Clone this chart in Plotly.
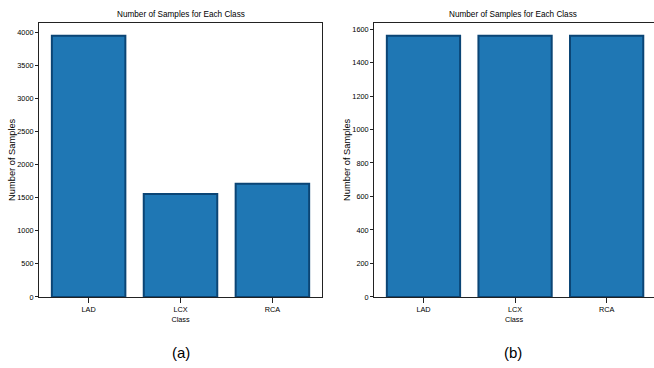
import plotly.graph_objects as go
from plotly.subplots import make_subplots

classes = ["LAD", "LCX", "RCA"]
counts_a = [3950, 1558, 1710]
counts_b = [1560, 1560, 1560]
title_text = "Number of Samples for Each Class"
panel_labels = ["(a)", "(b)"]

FONT = "Liberation Sans, Arial, sans-serif"
FILL = "#1f77b4"
EDGE = "#0b4575"

fig = make_subplots(rows=1, cols=2)

for i, vals in enumerate([counts_a, counts_b]):
    fig.add_trace(
        go.Bar(
            x=[0, 1, 2], y=vals, width=0.8,
            marker=dict(color=FILL, line=dict(color=EDGE, width=2)),
            showlegend=False, hoverinfo="skip",
        ),
        row=1, col=i + 1,
    )

axis_common = dict(
    showline=True, linecolor="#222", linewidth=1,
    ticks="outside", tickcolor="#222",
    showgrid=False, zeroline=False,
    tickfont=dict(family=FONT, size=7.3, color="#000"),
)

xtitle = dict(text="Class", font=dict(family=FONT, size=7.3, color="#000"), standoff=4)
ytitle = dict(text="Number of Samples", font=dict(family=FONT, size=9.3, color="#000"), standoff=0)

fig.update_layout(
    width=654, height=368,
    margin=dict(l=0, r=0, t=0, b=0),
    plot_bgcolor="white", paper_bgcolor="white",
    showlegend=False,
    xaxis=dict(domain=[0.0596, 0.4924], range=[-0.54, 2.54],
               tickvals=[0, 1, 2], ticktext=classes, ticklen=5, mirror=True,
               title=xtitle, **axis_common),
    xaxis2=dict(domain=[0.5719, 1.0], range=[-0.54, 2.517],
                tickvals=[0, 1, 2], ticktext=classes, ticklen=5, mirror=True,
                title=xtitle, **axis_common),
    yaxis=dict(domain=[0.182, 0.9375], range=[0, 4147],
               tickvals=[0, 500, 1000, 1500, 2000, 2500, 3000, 3500, 4000], ticklen=3, mirror=True,
               title=ytitle, **axis_common),
    yaxis2=dict(domain=[0.182, 0.9375], range=[0, 1638],
                tickvals=[0, 200, 400, 600, 800, 1000, 1200, 1400, 1600], ticklen=3, mirror=False,
                title=ytitle, **axis_common),
)

# Titles and panel labels
for xc, lab in zip([(0.0596 + 0.4924) / 2, (0.5719 + 0.997) / 2], panel_labels):
    fig.add_annotation(text=title_text, xref="paper", yref="paper",
                       x=xc, y=1 - 15 / 368, xanchor="center", yanchor="middle",
                       showarrow=False, font=dict(family=FONT, size=8.2, color="#000"))
    fig.add_annotation(text=lab, xref="paper", yref="paper",
                       x=xc, y=1 - 357 / 368, xanchor="center", yanchor="middle",
                       showarrow=False, font=dict(family=FONT, size=15, color="#000"))

fig.write_html("out.html", config={"displayModeBar": False},
               post_script="document.body.style.margin='0';document.body.style.overflow='hidden';")
